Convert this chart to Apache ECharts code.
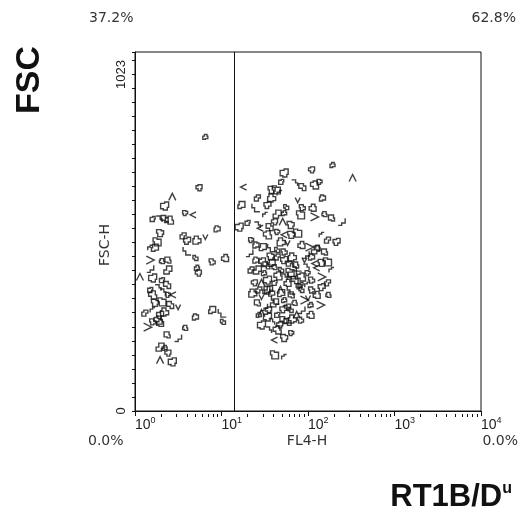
<!DOCTYPE html>
<html><head><meta charset="utf-8">
<script src="https://cdn.jsdelivr.net/npm/echarts@6/dist/echarts.min.js"></script>
<style>html,body{margin:0;padding:0;background:#fff}#c{width:520px;height:526px}</style>
</head><body><div id="c"></div>
<script>
// FL4-H (log) and FSC-H (channel) positions of contour islands, left of the gate
const leftFL4 = [6.5,5.5,2.7,2.2,1.6,1.9,2.2,2.5,3.8,4.7,1.95,1.8,1.5,3.6,4.0,5.2,6.5,8.9,1.7,4.0,5.0,7.8,11,1.5,2.05,2.4,1.5,2.4,5.2,5.4,1.14,1.6,2.05,1.85,2.35,1.6,2.4,2.75,1.7,2.05,1.6,1.3,1.95,2.2,3.15,5.0,7.8,10.2,10.4,1.6,1.95,1.4,3.8,2.35,3.15,1.95,2.2,2.4,1.95,2.7,1.5,2.1,2.55,1.85];
const leftFSC = [781,636,610,584,547,547,547,544,564,559,507,482,465,499,485,487,496,519,465,456,436,425,436,430,427,430,405,402,408,393,382,379,373,351,359,331,331,331,308,311,288,279,274,282,296,268,288,279,254,254,251,239,237,217,208,182,180,165,145,140,345,339,302,259];
// right of the gate
const rightFL4 = [192,110,328,53,49,70,86,119,136,18,38,43,47,26,34,38,76,147,17,25,56,86,113,119,155,187,245,44,53,41,51,16,20,26,36,34,44,53,64,76,144,168,214,49,58,25,30,38,44,53,84,104,129,155,21,26,31,24,29,34,41,53,70,84,99,126,144,168,187,168,144,23,29,38,49,64,84,110,126,91,70,26,31,41,53,58,29,34,44,38,58,44,64,41,53,41,53,44,53,66,91,110,38,76,49,110,58,144,41,64,84,35,107,47,74,29,60,95,33,45,78,120,37,62,98,27,52,66,100,
  25,33,42,63,82,107,140,172,72,94,122,27,35,48,66,82,35,52,30,22,28,63,82,32,22];
const rightFSC = [701,687,664,678,653,650,638,644,653,638,630,630,621,607,587,607,601,607,587,579,581,579,579,553,561,550,539,561,564,539,539,524,536,530,524,502,510,502,502,507,502,487,482,482,479,473,467,465,459,453,473,467,465,453,450,402,393,365,365,373,365,382,373,382,393,408,422,425,402,365,353,336,325,336,336,345,345,345,331,316,308,308,296,308,316,296,279,268,274,254,254,231,222,202,208,160,154,439,430,439,430,439,422,410,402,373,365,382,410,331,288,345,302,245,274,245,420,410,415,385,355,420,440,395,360,345,290,262,322,
  430,345,316,288,259,274,302,331,416,445,459,274,288,345,388,359,231,259,425,487,521,530,559,559,402];

const xMajorTicks = [1,10,100,1000,10000];
const xMajorExponents = ['0','1','2','3','4'];
const xMinorTicks = [2,3,4,5,6,7,8,9,20,30,40,50,60,70,80,90,200,300,400,500,600,700,800,900,2000,3000,4000,5000,6000,7000,8000,9000];
const yTickValues = [0,40,80,120,160,200,240,280,320,360,400,440,480,520,560,600,640,680,720,760,800,840,880,920,960,1000,1023];
const yTickLabels = [0,1023];
const gateFL4 = 14;
const quadrantPercents = ['37.2%','62.8%','0.0%','0.0%'];
const axisNames = ['FL4-H','FSC-H'];
const titles = ['FSC','RT1B/D','u'];

const pairs = (xs, ys) => xs.map((x, i) => [x, ys[i]]);
const shapes = [
  'path://M0,2H2V0H5V2H6V5H3V6H0Z',
  'path://M0,0H4V1H6V4H4V6H1V4H0Z',
  'path://M0,0L3,4L6,0',
  'path://M1,0H5V3H6V6H2V5H0V2H1Z',
  'path://M0,1H3V0H6V3H5V6H0Z',
  'path://M0,6V2H3V0H6',
  'path://M0,0H3V2H6V6H2V4H0Z'
];
const ink = '#111';
const scatterStyle = {
  type: 'scatter', symbol: (v, p) => shapes[p.dataIndex % shapes.length],
  symbolSize: (v, p) => 5 + (p.dataIndex % 4),
  symbolRotate: (v, p) => ((p.dataIndex * 3) % 4) * 90,
  itemStyle: { color: 'rgba(0,0,0,0)', borderColor: ink, borderWidth: 1.4 },
  silent: true
};
const txt = { fontFamily: 'DejaVu Sans', fontSize: 14, fill: '#333' };

const chart = echarts.init(document.getElementById('c'), null, { renderer: 'canvas' });
chart.setOption({
  animation: false,
  backgroundColor: '#fff',
  grid: { left: 135, right: 39, top: 52, bottom: 115, show: true, borderColor: ink, borderWidth: 1, backgroundColor: 'rgba(0,0,0,0)' },
  xAxis: [
    { type: 'log', logBase: 10, min: 1, max: 10000, position: 'bottom', offset: 2,
      axisLine: { show: true, lineStyle: { color: ink, width: 1 } },
      axisTick: { show: true, length: 5, lineStyle: { color: ink }, customValues: xMajorTicks },
      splitLine: { show: false }, minorTick: { show: false },
      axisLabel: { customValues: xMajorTicks, margin: 3, align: 'left',
        formatter: v => '{b|10}{s|' + xMajorExponents[Math.round(Math.log10(v))] + '}',
        rich: { b: { fontFamily: 'Liberation Sans', fontSize: 14, color: '#222', lineHeight: 16, verticalAlign: 'bottom' },
                s: { fontFamily: 'Liberation Sans', fontSize: 9, color: '#222', lineHeight: 16, verticalAlign: 'top' } } } },
    { type: 'value', gridIndex: 0, min: 0, max: 4, position: 'bottom', offset: 3,
      axisLine: { show: false }, splitLine: { show: false },
      axisTick: { show: true, length: 3, lineStyle: { color: ink, width: 1 }, customValues: xMinorTicks.map(Math.log10) },
      axisLabel: { show: false } }
  ],
  yAxis: { type: 'value', min: 0, max: 1023, position: 'left',
    axisLine: { show: true, lineStyle: { color: ink } },
    axisTick: { show: true, length: 3, lineStyle: { color: ink }, customValues: yTickValues },
    splitLine: { show: false },
    axisLabel: { customValues: yTickLabels, rotate: 90, margin: 7, alignMaxLabel: 'right',
      formatter: v => v === 1023 ? '{t|' + v + '}' : '{z|' + v + '}',
      rich: { t: { fontFamily: 'Liberation Sans', fontSize: 13, color: '#222', padding: [0, 8, 0, 0] },
              z: { fontFamily: 'Liberation Sans', fontSize: 13, color: '#222' } } } },
  series: [
    Object.assign({}, scatterStyle, { data: pairs(leftFL4, leftFSC),
      markLine: { silent: true, symbol: ['none','none'], label: { show: false },
        lineStyle: { color: ink, type: 'solid', width: 1 }, data: [{ xAxis: gateFL4 }] } }),
    Object.assign({}, scatterStyle, { data: pairs(rightFL4, rightFSC) })
  ],
  graphic: [
    { type: 'text', left: 89, top: 11, style: Object.assign({ text: quadrantPercents[0] }, txt) },
    { type: 'text', right: 4, top: 11, style: Object.assign({ text: quadrantPercents[1] }, txt) },
    { type: 'text', left: 88, top: 434, style: Object.assign({ text: quadrantPercents[2] }, txt) },
    { type: 'text', right: 2, top: 434, style: Object.assign({ text: quadrantPercents[3] }, txt) },
    { type: 'text', x: 307, y: 441, style: Object.assign({ text: axisNames[0], align: 'center', verticalAlign: 'middle' }, txt) },
    { type: 'text', x: 105, y: 245, rotation: Math.PI / 2, style: Object.assign({ text: axisNames[1], align: 'center', verticalAlign: 'middle' }, txt) },
    { type: 'text', x: 30, y: 80, rotation: Math.PI / 2, style: { text: titles[0], align: 'center', verticalAlign: 'middle', fontFamily: 'Liberation Sans', fontWeight: 'bold', fontSize: 34, fill: '#111' } },
    { type: 'text', x: 512, y: 497, style: { text: '{m|' + titles[1] + '}{u|' + titles[2] + '}', align: 'right', verticalAlign: 'middle',
      rich: { m: { fontFamily: 'Liberation Sans', fontWeight: 'bold', fontSize: 31, fill: '#111', lineHeight: 32, verticalAlign: 'bottom' },
              u: { fontFamily: 'Liberation Sans', fontWeight: 'bold', fontSize: 16, fill: '#111', lineHeight: 32, verticalAlign: 'top' } } } }
  ]
});
</script></body></html>
